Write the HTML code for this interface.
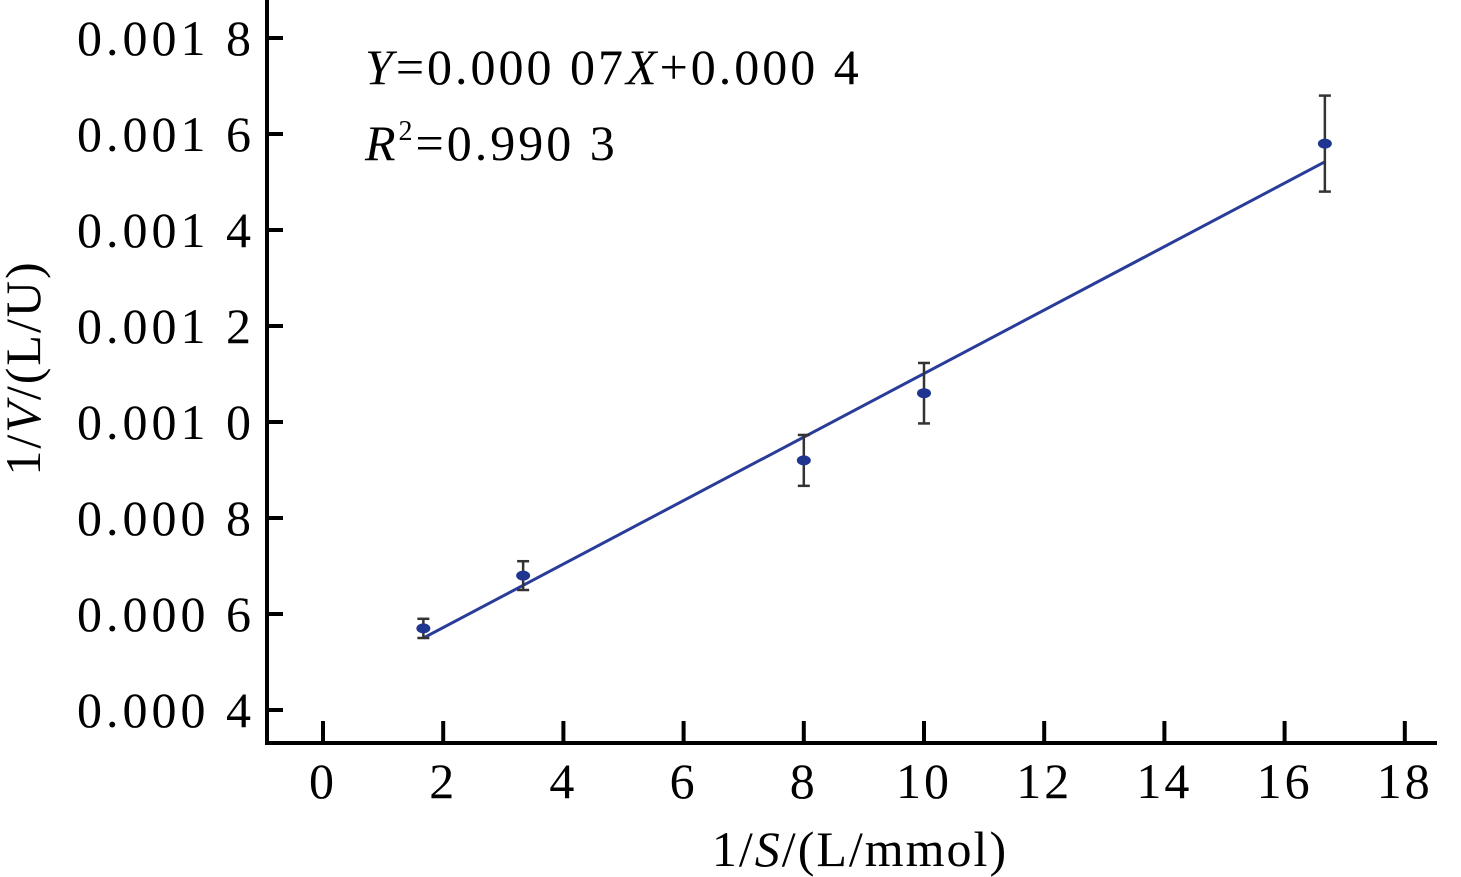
<!DOCTYPE html>
<html><head><meta charset="utf-8"><style>
body{margin:0;background:#fff}
svg{display:block;font-family:"Liberation Serif",serif}
</style></head><body>
<svg width="1461" height="877">
<g id="axes"></g>
<g id="marks"></g>
<text x="365" y="84" font-size="50" letter-spacing="3"><tspan font-style="italic">Y</tspan>=0.000 07<tspan font-style="italic">X</tspan>+0.000 4</text>
<text x="365" y="160" font-size="50" letter-spacing="3"><tspan font-style="italic">R</tspan><tspan font-size="28" dy="-20">2</tspan><tspan dy="20">=0.990 3</tspan></text>
<text x="860" y="866" font-size="50" letter-spacing="2" text-anchor="middle">1/<tspan font-style="italic">S</tspan>/(L/mmol)</text>
<text transform="translate(40,368) rotate(-90)" font-size="50" letter-spacing="2" text-anchor="middle">1/<tspan font-style="italic">V</tspan>/(L/U)</text>
</svg>
<script>
const xTicks=[0,2,4,6,8,10,12,14,16,18];
const yTicks=[0.0004,0.0006,0.0008,0.0010,0.0012,0.0014,0.0016,0.0018];
const yTickLabels=["0.000 4","0.000 6","0.000 8","0.001 0","0.001 2","0.001 4","0.001 6","0.001 8"];
const xVals=[1.67,3.33,8,10,16.67];
const yVals=[0.00057,0.00068,0.00092,0.00106,0.00158];
const yErr=[0.00002,0.00003,0.000053,0.000063,0.0001];
const fitX=[1.67,16.67];
const fitY=[0.00055,0.001542];
const NS="http://www.w3.org/2000/svg";
const sx=v=>323+v*60.1;
const sy=v=>710-(v-0.0004)/0.0002*96;
function mk(p,t,a){const e=document.createElementNS(NS,t);for(const k in a)e.setAttribute(k,a[k]);p.appendChild(e);return e;}
const ax=document.getElementById('axes'),mg=document.getElementById('marks');
let e=mk(ax,'line',{x1:267,y1:0,x2:267,y2:745,stroke:'#000','stroke-width':4});


e=mk(ax,'line',{x1:265,y1:743,x2:1437,y2:743,stroke:'#000','stroke-width':4});


xTicks.forEach(v=>{
 let t=mk(ax,'line',{x1:sx(v),y1:721,x2:sx(v),y2:743,stroke:'#000','stroke-width':4});
 
 
 let l=mk(ax,'text',{x:sx(v),y:798,'font-size':50,'letter-spacing':3,'text-anchor':'middle'});l.textContent=v;
 
 
});
yTicks.forEach((v,i)=>{
 let t=mk(ax,'line',{x1:267,y1:sy(v),x2:283,y2:sy(v),stroke:'#000','stroke-width':4});
 
 
 let l=mk(ax,'text',{x:255,y:sy(v)+17,'font-size':50,'letter-spacing':4,'text-anchor':'end'});l.textContent=yTickLabels[i];
 
 
});
e=mk(mg,'line',{x1:sx(fitX[0]),y1:sy(fitY[0]),x2:sx(fitX[1]),y2:sy(fitY[1]),stroke:'#2a3c9a','stroke-width':3});


xVals.forEach((x,i)=>{
 const cx=sx(x),t=sy(yVals[i]+yErr[i]),b=sy(yVals[i]-yErr[i]);
 let g=mk(mg,'g',{});
 
 
 mk(g,'line',{x1:cx,y1:t,x2:cx,y2:b,stroke:'#333','stroke-width':2.5});
 mk(g,'line',{x1:cx-6,y1:t,x2:cx+6,y2:t,stroke:'#333','stroke-width':2.5});
 mk(g,'line',{x1:cx-6,y1:b,x2:cx+6,y2:b,stroke:'#333','stroke-width':2.5});
 let p=mk(mg,'ellipse',{cx:cx,cy:sy(yVals[i]),rx:7,ry:5,fill:'#1f3590'});
 
 
});
</script>
</body></html>
